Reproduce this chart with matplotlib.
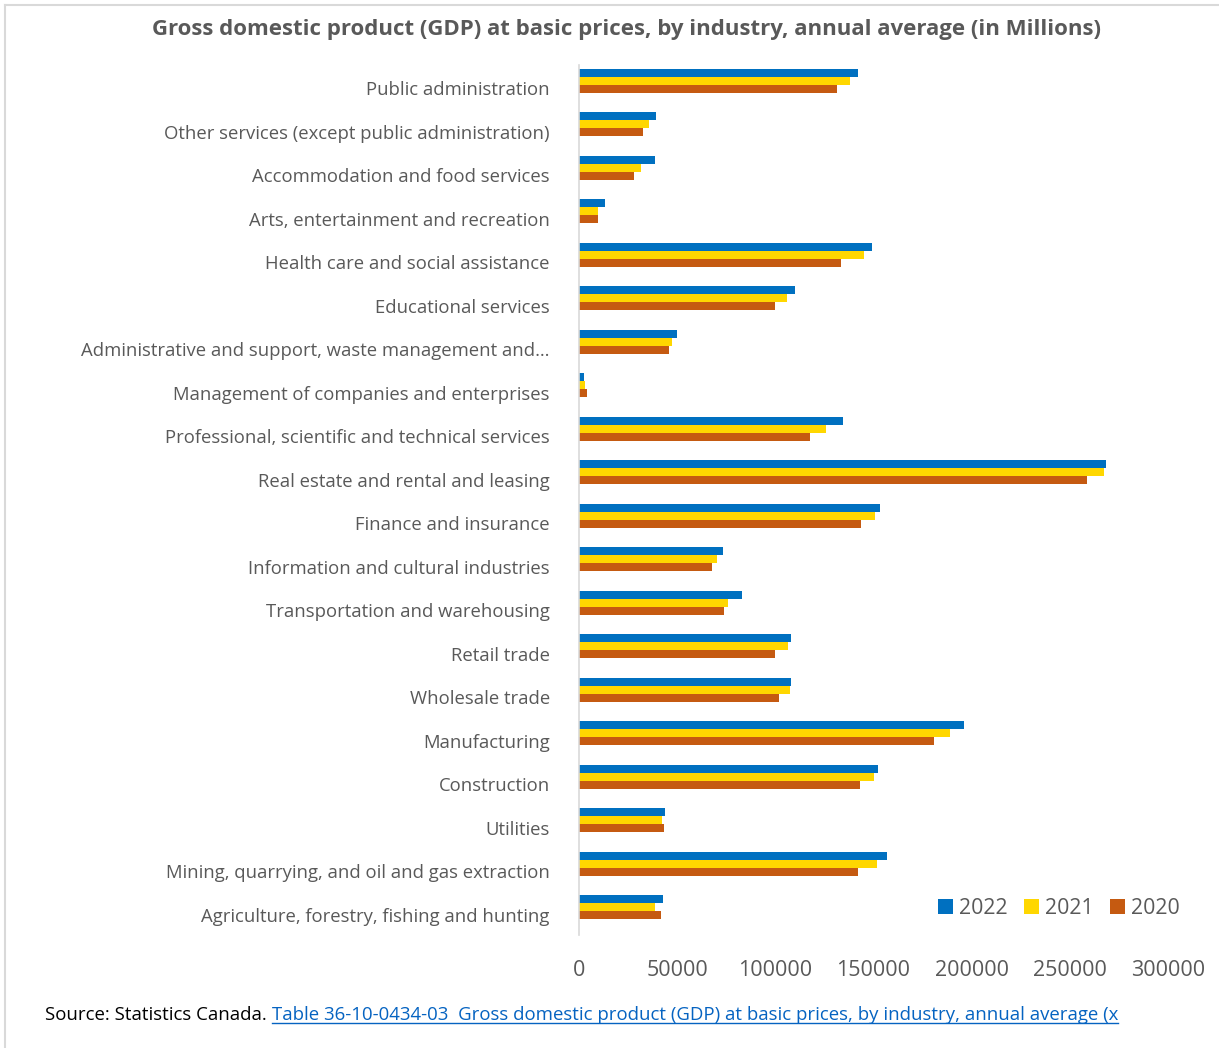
import matplotlib.pyplot as plt
import numpy as np
from matplotlib.lines import Line2D

plt.rcParams['font.family'] = ['Open Sans', 'DejaVu Sans']

industries = [
    "Agriculture, forestry, fishing and hunting",
    "Mining, quarrying, and oil and gas extraction",
    "Utilities",
    "Construction",
    "Manufacturing",
    "Wholesale trade",
    "Retail trade",
    "Transportation and warehousing",
    "Information and cultural industries",
    "Finance and insurance",
    "Real estate and rental and leasing",
    "Professional, scientific and technical services",
    "Management of companies and enterprises",
    "Administrative and support, waste management and\u2026",
    "Educational services",
    "Health care and social assistance",
    "Arts, entertainment and recreation",
    "Accommodation and food services",
    "Other services (except public administration)",
    "Public administration",
]

gdp_2022 = [43000, 157100, 43900, 152100, 196200, 108200, 107800, 82900, 73200, 153400,
            268500, 134700, 2300, 49700, 109800, 149000, 13200, 38900, 39200, 142000]
gdp_2021 = [38900, 151700, 42400, 150400, 188900, 107600, 106300, 76100, 70400, 150700,
            267300, 125600, 3000, 47500, 105900, 145100, 9800, 31600, 35600, 137800]
gdp_2020 = [41800, 142100, 43200, 142900, 180700, 102100, 99600, 73900, 67700, 143600,
            258500, 117800, 4000, 45800, 99900, 133400, 9500, 27800, 32700, 131400]

years = ["2022", "2021", "2020"]
colors = ["#0070C0", "#FFD700", "#C55A11"]
grey = "#595959"

W, H = 1219, 1048
fig = plt.figure(figsize=(W / 100, H / 100), dpi=100)
ax = fig.add_axes([579 / W, 1 - 935 / H, (1168 - 579) / W, 870 / H])

y = np.arange(len(industries))
h = 0.184
shift = 0.14
for k, (vals, lab, c) in enumerate(zip([gdp_2022, gdp_2021, gdp_2020], years, colors)):
    ax.barh(y + shift + (1 - k) * h, vals, height=h, color=c, label=lab)

ax.set_xlim(0, 300000)
ax.set_ylim(-0.5, len(industries) - 0.5)
ax.set_xticks(np.arange(0, 300001, 50000))
ax.set_yticks(y - 0.04)
ax.set_yticklabels(industries)
ax.tick_params(length=0, colors=grey)
ax.tick_params(axis='y', labelsize=13.3, pad=21)
ax.tick_params(axis='x', labelsize=15.5, pad=18)
for s in ["top", "right", "bottom"]:
    ax.spines[s].set_visible(False)
ax.spines["left"].set_color("#d9d9d9")
ax.spines["left"].set_linewidth(1.2)

ax.legend(loc="lower right", bbox_to_anchor=(1199 / W, 1 - 938 / H), bbox_transform=fig.transFigure,
          ncol=3, frameon=False, fontsize=15.3, handlelength=0.7, handleheight=0.7,
          handletextpad=0.3, columnspacing=0.75, labelcolor=grey)

fig.text(627 / W, 1 - 29 / H,
         "Gross domestic product (GDP) at basic prices, by industry, annual average (in Millions)",
         ha="center", va="center", fontsize=16, fontweight="bold", color=grey)

# chart frame (left and top edges only)
fig.add_artist(Line2D([5 / W, 5 / W], [0, 1 - 5 / H], color="#d9d9d9", lw=1.5))
fig.add_artist(Line2D([5 / W, 1], [1 - 5 / H, 1 - 5 / H], color="#d9d9d9", lw=1.5))

# source line with underlined link
src = fig.text(45 / W, 1 - 1015 / H, "Source: Statistics Canada. ", ha="left", va="center",
               fontsize=13.4, color="black")
fig.canvas.draw()
r = fig.canvas.get_renderer()
bb = src.get_window_extent(r)
link = fig.text(bb.x1 / W, 1 - 1015 / H,
                "Table 36-10-0434-03  Gross domestic product (GDP) at basic prices, by industry, annual average (x",
                ha="left", va="center", fontsize=13.4, color="#0563C1")
lb = link.get_window_extent(r)
fig.add_artist(Line2D([lb.x0 / W, lb.x1 / W], [(lb.y0 + 1) / H, (lb.y0 + 1) / H],
                      color="#0563C1", lw=1))

fig.savefig("out.png", dpi=100)
